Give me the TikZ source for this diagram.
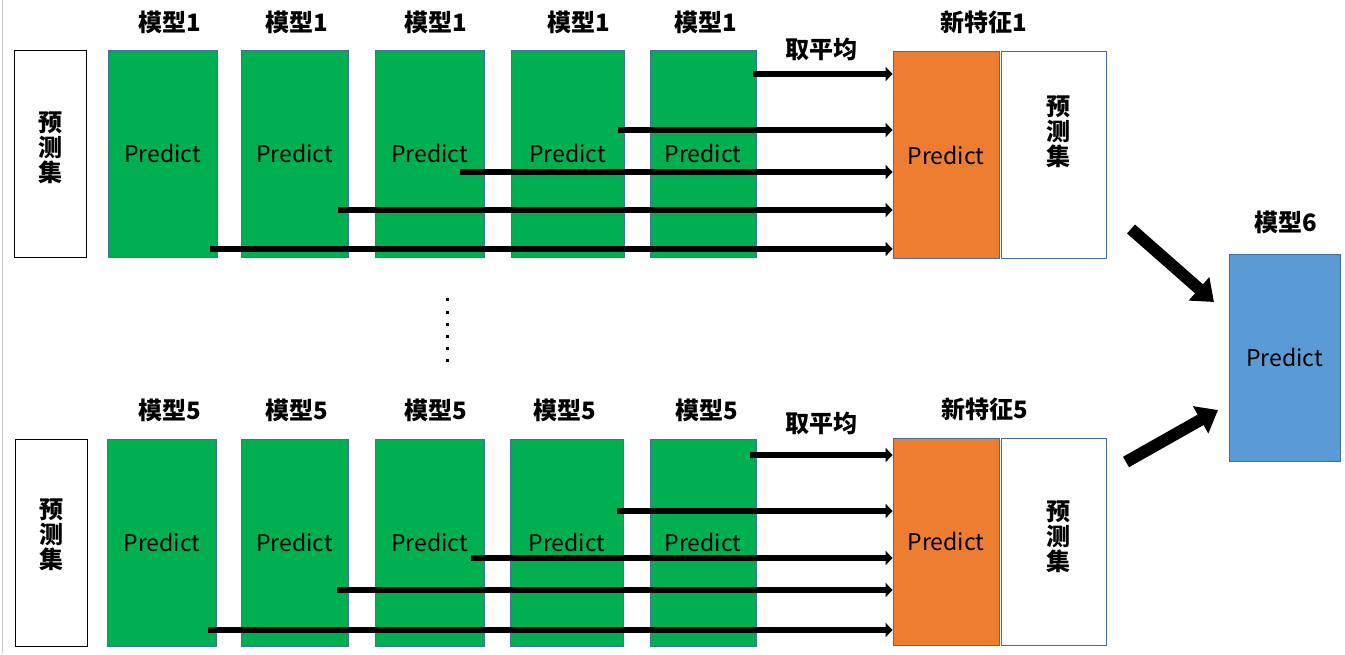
\documentclass[tikz,border=0pt]{standalone}
\usepackage{fontspec}
\newfontfamily\cjk{Noto Sans CJK SC}
\usetikzlibrary{arrows.meta}
\definecolor{gfill}{HTML}{00B050}
\definecolor{ofill}{HTML}{ED7D31}
\definecolor{bfill}{HTML}{5B9BD5}
\definecolor{edgeblue}{HTML}{41719C}
\newcommand\predtxt{\raisebox{-3pt}{Predict}}
\tikzset{
  box/.style={rectangle, inner sep=0pt, draw=edgeblue, line width=0.8pt, font=\cjk\fontsize{23}{26}\selectfont},
  gbox/.style={box, fill=gfill, minimum width=109pt, minimum height=207pt},
  obox/.style={box, fill=ofill, minimum width=106pt, minimum height=207pt},
  wbox/.style={box, fill=white, minimum width=105pt, minimum height=207pt},
  setbox/.style={rectangle, inner sep=0pt, draw=black, line width=0.8pt, fill=white, minimum width=72pt, minimum height=207pt},
  vtext/.style={font=\cjk\bfseries\fontsize{24}{25}\selectfont, align=center, inner sep=0pt},
  lbl/.style={font=\cjk\bfseries\fontsize{24}{26}\selectfont, inner sep=0pt},
  harrow/.style={draw=black, line width=6.5pt, -{Triangle[length=7pt,width=14pt]}},
  darrow/.style={draw=black, line width=12pt, -{Triangle[length=20pt,width=30pt]}},
  dotsq/.style={fill=black, draw=none}
}
\begin{document}
\begin{tikzpicture}[x=1pt,y=-1pt]
\useasboundingbox (0,0) rectangle (1345,654);
\draw[gray!40, line width=1pt] (2,0) -- (2,654);

% ===== top row =====
\node[setbox] (ps1) at (50,153.5) {};
\node[vtext] (ps1t) at (50,148) {预\\测\\集};
\node[gbox] (a1) at (162.5,153.5) {\predtxt};
\node[gbox, minimum width=107pt] (a2) at (294.5,153.5) {\predtxt};
\node[gbox] (a3) at (429.5,153.5) {\predtxt};
\node[gbox, minimum width=113pt] (a4) at (567.5,153.5) {\predtxt};
\node[gbox, minimum width=106pt] (a5) at (703,153.5) {\predtxt};
\node[obox] (o1) at (946,155) {\predtxt};
\node[wbox] (w1) at (1053.5,155) {};
\node[vtext] (w1t) at (1058,132) {预\\测\\集};

\node[lbl] (la1) at (170,22) {模型1};
\node[lbl] (la2) at (297,22) {模型1};
\node[lbl] (la3) at (436,22) {模型1};
\node[lbl] (la4) at (579,22) {模型1};
\node[lbl] (la5) at (706,22) {模型1};
\node[lbl] (nf1) at (984,22) {新特征1};
\node[lbl] (avg1) at (821,49) {取平均};

\coordinate (s11) at (753,74);
\coordinate (s12) at (618,130);
\coordinate (s13) at (460,172);
\coordinate (s14) at (338,210);
\coordinate (s15) at (210,249);
\foreach \s in {s11,s12,s13,s14,s15}
  \draw[harrow] (\s) -- (\s -| o1.west);

% ===== dots =====
\foreach \yy [count=\i] in {299,312,324,336,348,360}
  \fill[dotsq] (445.5,\yy-1.5) rectangle ++(3.5,3.5);

% ===== bottom row =====
\node[setbox] (ps5) at (51,542.5) {};
\node[vtext] (ps5t) at (51,535) {预\\测\\集};
\node[gbox] (b1) at (162,542.5) {\predtxt};
\node[gbox, minimum width=107pt] (b2) at (294.5,542.5) {\predtxt};
\node[gbox] (b3) at (429.5,542.5) {\predtxt};
\node[gbox, minimum width=113pt] (b4) at (567,542.5) {\predtxt};
\node[gbox, minimum width=106pt] (b5) at (703,542.5) {\predtxt};
\node[obox] (o5) at (946,541.5) {\predtxt};
\node[wbox] (w5) at (1053.5,541.5) {};
\node[vtext] (w5t) at (1058,537) {预\\测\\集};

\node[lbl] (lb1) at (170,410) {模型5};
\node[lbl] (lb2) at (297,410) {模型5};
\node[lbl] (lb3) at (436,410) {模型5};
\node[lbl] (lb4) at (565,410) {模型5};
\node[lbl] (lb5) at (707,410) {模型5};
\node[lbl] (nf5) at (985,409) {新特征5};
\node[lbl] (avg5) at (821,423) {取平均};

\coordinate (s51) at (750,455);
\coordinate (s52) at (617,511);
\coordinate (s53) at (471,558);
\coordinate (s54) at (337,590);
\coordinate (s55) at (208,630);
\foreach \s in {s51,s52,s53,s54,s55}
  \draw[harrow] (\s) -- (\s -| o5.west);

% ===== model 6 =====
\node[box, fill=bfill, minimum width=111pt, minimum height=207pt] (m6) at (1284.5,357.5) {Predict};
\node[lbl] (lm6) at (1286,222) {模型6};

\coordinate (d1s) at (1131,229);
\coordinate (d1e) at (1214,302);
\coordinate (d5s) at (1126,462);
\coordinate (d5e) at (1218,410);
\draw[darrow] (d1s) -- (d1e);
\draw[darrow] (d5s) -- (d5e);
\end{tikzpicture}
\end{document}
